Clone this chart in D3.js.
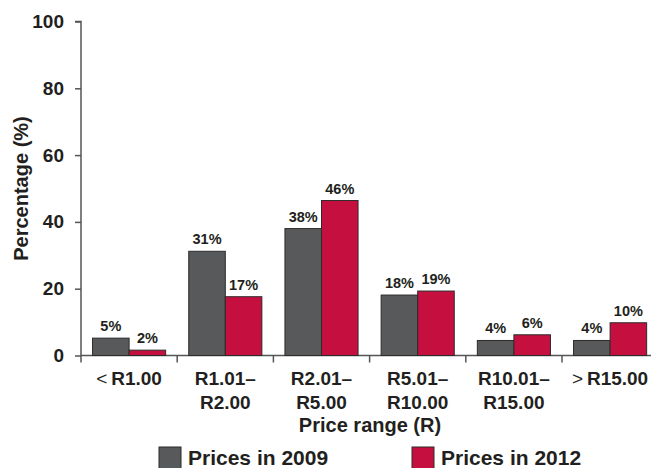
<!DOCTYPE html>
<html>
<head>
<script src="https://d3js.org/d3.v7.min.js"></script>
<style>
  body { margin: 0; background: #fff; }
  svg { display: block; font-family: "Liberation Sans", Arial, sans-serif; font-weight: bold; }
</style>
</head>
<body>
<div id="chart"></div>
<script>
// data
const categories = [["< ", "R1.00"], ["R1.01–", "R2.00"], ["R2.01–", "R5.00"], ["R5.01–", "R10.00"], ["R10.01–", "R15.00"], ["> ", "R15.00"]];
const seriesNames = ["Prices in 2009", "Prices in 2012"];
const prices2009 = [5.2, 31.2, 38, 18.1, 4.5, 4.5];
const prices2012 = [1.6, 17.6, 46.4, 19.3, 6.2, 9.8];
const labels2009 = ["5%", "31%", "38%", "18%", "4%", "4%"];
const labels2012 = ["2%", "17%", "46%", "19%", "6%", "10%"];
const yTicks = [0, 20, 40, 60, 80, 100];

const w = 651, h = 468;
const colors = ["#58595b", "#c5103f"];
const axisColor = "#555";
const textColor = "#231f20";

const svg = d3.select('#chart').append('svg')
  .attr('width', w).attr('height', h);

const x0 = 81;
const step = 96.2;
const x = d3.scaleBand()
  .domain(d3.range(categories.length))
  .range([x0, x0 + step * categories.length])
  .paddingInner(0.24).paddingOuter(0.12);
const xSub = d3.scaleBand().domain([0, 1]).range([0, x.bandwidth()]);
const y = d3.scaleLinear().domain([0, 100]).range([355.5, 21.5]);

// y axis
const yAxis = d3.axisLeft(y).tickValues(yTicks).tickSize(6).tickPadding(11);
const gy = svg.append('g').attr('transform', `translate(${x0},0)`).call(yAxis);
gy.select('.domain').attr('stroke', axisColor).attr('stroke-width', 1.5)
  .attr('d', `M-6,${y(100)}H0V${y(0) + 7}`);
gy.selectAll('.tick line').attr('stroke', axisColor).attr('stroke-width', 1.5);
gy.selectAll('.tick text').attr('font-size', 19).attr('font-weight', 'bold')
  .attr('fill', textColor).attr('font-family', '"Liberation Sans", Arial, sans-serif');

// x axis line and boundary ticks
const xBounds = d3.range(categories.length + 1).map(i => x0 + i * x.step());
svg.append('line').attr('x1', x0).attr('x2', xBounds[xBounds.length - 1])
  .attr('y1', y(0)).attr('y2', y(0)).attr('stroke', axisColor).attr('stroke-width', 1.5);
svg.selectAll('.xtick').data(xBounds.slice(1)).enter().append('line')
  .attr('x1', d => d).attr('x2', d => d)
  .attr('y1', y(0)).attr('y2', y(0) + 7)
  .attr('stroke', axisColor).attr('stroke-width', 1.5);

// bars
const series = [prices2009, prices2012];
const seriesLabels = [labels2009, labels2012];
series.forEach((vals, s) => {
  svg.selectAll('.bar' + s).data(vals).enter().append('rect')
    .attr('x', (d, i) => x(i) + xSub(s))
    .attr('y', d => y(d))
    .attr('width', xSub.bandwidth())
    .attr('height', d => y(0) - y(d))
    .attr('fill', colors[s])
    .attr('stroke', '#2b2b2b').attr('stroke-width', 1);
  svg.selectAll('.lab' + s).data(vals).enter().append('text')
    .attr('x', (d, i) => x(i) + xSub(s) + xSub.bandwidth() / 2)
    .attr('y', d => y(d) - 7)
    .attr('text-anchor', 'middle')
    .attr('font-size', 14.5).attr('fill', textColor)
    .text((d, i) => seriesLabels[s][i]);
});

// category labels
categories.forEach((c, i) => {
  const cx = x(i) + x.bandwidth() / 2;
  if (c[0] === "< " || c[0] === "> ") {
    const t = svg.append('text').attr('x', cx).attr('y', 385)
      .attr('text-anchor', 'middle').attr('font-size', 19).attr('fill', textColor);
    t.append('tspan').attr('font-weight', 'normal').text(c[0].trim() + '\u2009');
    t.append('tspan').text(c[1]);
  } else {
    svg.append('text').attr('x', cx).attr('y', 385)
      .attr('text-anchor', 'middle').attr('font-size', 19).attr('fill', textColor).text(c[0]);
    svg.append('text').attr('x', cx).attr('y', 409)
      .attr('text-anchor', 'middle').attr('font-size', 19).attr('fill', textColor).text(c[1]);
  }
});

// axis titles
svg.append('text').attr('x', 370).attr('y', 432).attr('text-anchor', 'middle')
  .attr('font-size', 20).attr('fill', textColor).text('Price range (R)');
svg.append('text').attr('transform', `translate(28,${y(50)}) rotate(-90)`)
  .attr('text-anchor', 'middle').attr('font-size', 20).attr('fill', textColor)
  .text('Percentage (%)');

// legend
const legendX = [159, 412];
seriesNames.forEach((name, s) => {
  svg.append('rect').attr('x', legendX[s]).attr('y', 447).attr('width', 22).attr('height', 22)
    .attr('fill', colors[s]).attr('stroke', '#2b2b2b').attr('stroke-width', 1);
  svg.append('text').attr('x', legendX[s] + 29).attr('y', 465)
    .attr('font-size', 21).attr('fill', textColor).text(name);
});
</script>
</body>
</html>
